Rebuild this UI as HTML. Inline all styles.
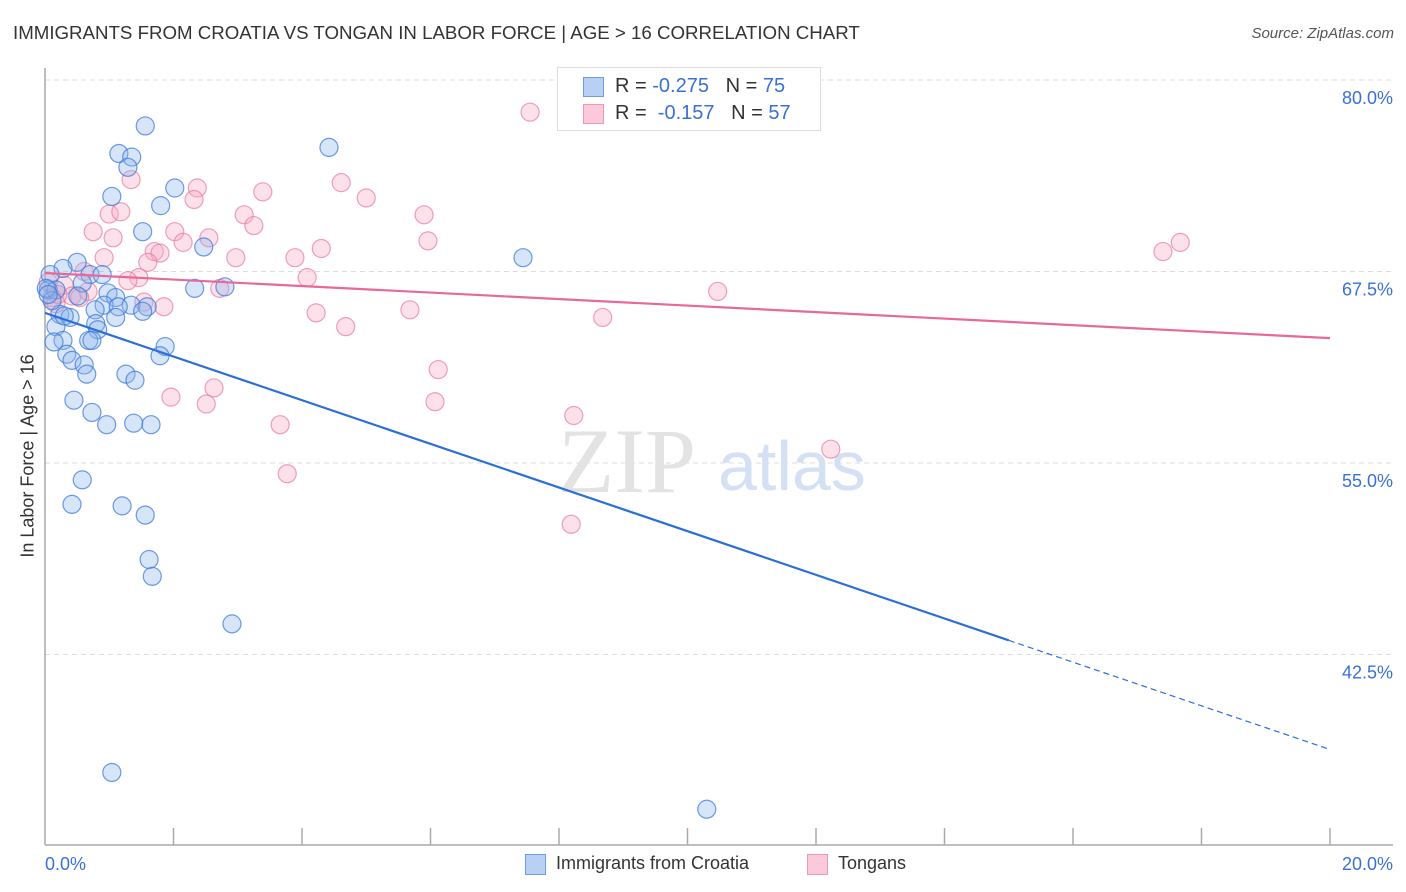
<!DOCTYPE html>
<html><head><meta charset="utf-8"><style>
body{margin:0;background:#fff;font-family:"Liberation Sans",sans-serif}
#wrap{position:relative;width:1406px;height:892px;overflow:hidden}
.t{position:absolute;white-space:nowrap}
</style></head><body>
<div id="wrap">
<div class="t" style="left:13px;top:22px;font-size:18.7px;color:#333">IMMIGRANTS FROM CROATIA VS TONGAN IN LABOR FORCE | AGE &gt; 16 CORRELATION CHART</div>
<div class="t" style="right:12px;top:25px;font-size:15px;color:#555;font-style:italic">Source: ZipAtlas.com</div>
<svg id="svg" width="1406" height="892" style="position:absolute;left:0;top:0"></svg>
</div>
<script>
const xTicks=[0,2,4,6,8,10,12,14,16,18,20];
const yTicks=[42.5,55,67.5,80];
const yTickLabels=["42.5%","55.0%","67.5%","80.0%"];
const croatiaX=[1.56,1.15,1.35,1.29,1.04,2.02,1.80,1.52,2.47,4.42,7.44,0.50,0.28,0.70,0.89,0.58,0.08,0.05,0.17,0.98,0.51,1.10,1.34,1.59,0.92,1.14,2.33,2.80,0.78,1.10,1.52,0.23,0.39,0.17,0.79,0.82,0.68,0.28,0.14,0.73,1.87,1.79,0.34,0.42,0.61,0.65,1.26,1.40,0.45,0.73,0.96,1.38,1.65,0.58,0.42,1.20,1.56,1.62,1.67,2.91,1.04,10.30,0.11,0.02,0.05,0.30];
const croatiaY=[77.0,75.2,74.97,74.3,72.4,72.95,71.8,70.1,69.1,75.6,68.4,68.1,67.7,67.3,67.3,66.75,67.3,66.3,66.3,66.1,65.9,65.8,65.3,65.2,65.3,65.2,66.4,66.5,65.0,64.5,64.9,64.7,64.5,63.9,64.1,63.7,63.0,63.0,62.9,63.0,62.6,62.0,62.1,61.7,61.4,60.8,60.8,60.4,59.1,58.3,57.5,57.6,57.5,53.9,52.3,52.2,51.6,48.7,47.6,44.5,34.8,32.4,65.6,66.4,66.0,64.6];
const tonganX=[7.55,1.34,2.37,3.39,4.61,5.0,2.32,1.0,1.18,3.10,3.25,5.90,0.75,1.06,2.02,2.55,2.15,5.96,1.70,1.79,4.30,2.97,3.89,1.60,0.92,1.46,1.29,4.08,17.4,17.67,10.47,0.30,0.42,0.11,0.17,0.67,1.54,1.85,2.72,4.22,4.68,5.68,8.68,6.12,2.63,1.96,2.51,6.07,8.23,3.66,12.23,3.77,8.19,0.61,0.54,0.05,0.20];
const tonganY=[77.9,73.5,72.95,72.7,73.3,72.3,72.2,71.25,71.4,71.2,70.5,71.2,70.1,69.7,70.1,69.7,69.4,69.5,68.8,68.7,69.0,68.4,68.4,68.1,68.4,67.1,66.9,67.1,68.8,69.4,66.2,66.6,65.9,65.8,65.4,66.2,65.5,65.2,66.4,64.8,63.9,65.0,64.5,61.1,59.9,59.3,58.85,59.0,58.1,57.5,55.9,54.3,51.0,67.5,65.8,66.8,66.0];
const croatiaTrend=[64.8,36.3];const croatiaSolidEnd=15.0;
const tonganTrend=[67.4,63.15];
const NS="http://www.w3.org/2000/svg";
const svg=document.getElementById('svg');
const X=v=>45+v/20*1285;
const Y=v=>80+(80-v)/12.5*191.5;
function el(tag,attrs){const e=document.createElementNS(NS,tag);for(const k in attrs)e.setAttribute(k,attrs[k]);svg.appendChild(e);return e;}
yTicks.forEach((v,i)=>{
 const g=el('line',{x1:45,x2:1393,y1:Y(v),y2:Y(v),stroke:'#ddd','stroke-dasharray':'5,4'});
 
 
 const t=el('text',{x:1393,y:Y(v)+24,'text-anchor':'end','font-size':18,fill:'#3a70d6','font-family':'Liberation Sans, sans-serif'});
 t.textContent=yTickLabels[i];
 
 
});
const ax=el('line',{x1:45,x2:45,y1:68,y2:845,stroke:'#aaa','stroke-width':1.5});


const bx=el('line',{x1:45,x2:1393,y1:845,y2:845,stroke:'#aaa','stroke-width':1.5});


xTicks.slice(1).forEach(v=>{
 const l=el('line',{x1:X(v),x2:X(v),y1:828,y2:845,stroke:'#aaa','stroke-width':1.5});
 
 
});
[[0,'0.0%',45,'start'],[20,'20.0%',1393,'end']].forEach(a=>{
 const t=el('text',{x:a[2],y:870,'text-anchor':a[3],'font-size':18,fill:'#3a70d6','font-family':'Liberation Sans, sans-serif'});
 t.textContent=a[1];
 
 
});
const w1=el('text',{x:558,y:492,'font-size':92,fill:'#e3e3e3','font-family':'Liberation Serif, serif'});w1.textContent='ZIP';


const w2=el('text',{x:718,y:490,'font-size':70,fill:'#d4e1f5','font-family':'Liberation Sans, sans-serif'});w2.textContent='atlas';


tonganX.forEach((x,i)=>{
 const c=el('circle',{cx:X(x),cy:Y(tonganY[i]),r:9,fill:'rgba(248,170,195,0.35)',stroke:'rgba(232,120,160,0.7)','stroke-width':1.2});
 
 
});
croatiaX.forEach((x,i)=>{
 const c=el('circle',{cx:X(x),cy:Y(croatiaY[i]),r:9,fill:'rgba(140,180,235,0.35)',stroke:'rgba(60,120,220,0.75)','stroke-width':1.2});
 
 
});
const cy=x=>croatiaTrend[0]+(croatiaTrend[1]-croatiaTrend[0])*x/20;
const l1=el('line',{x1:X(0),y1:Y(cy(0)),x2:X(croatiaSolidEnd),y2:Y(cy(croatiaSolidEnd)),stroke:'#2b6fd6','stroke-width':2.2});


const l2=el('line',{x1:X(croatiaSolidEnd),y1:Y(cy(croatiaSolidEnd)),x2:X(20),y2:Y(cy(20)),stroke:'#2b6fd6','stroke-width':1.2,'stroke-dasharray':'6,4'});


const l3=el('line',{x1:X(0),y1:Y(tonganTrend[0]),x2:X(20),y2:Y(tonganTrend[1]),stroke:'#e8689a','stroke-width':2.2});


</script>
<div class="t" style="left:28px;top:456px;font-size:18px;color:#333;transform:translate(-50%,-50%) rotate(-90deg);transform-origin:center;">In Labor Force | Age &gt; 16</div>
<div style="position:absolute;left:557px;top:67px;width:262px;height:62px;border:1px solid #ddd;background:#fff;font-size:20px;color:#333">
 <div style="position:absolute;left:25px;top:9px;width:19px;height:18px;background:#b8d0f3;border:1px solid #6f9be0"></div>
 <div class="t" style="left:57px;top:7px">R = <span style="color:#3a70d6">-0.275</span>&nbsp;&nbsp;&nbsp;N = <span style="color:#3a70d6">75</span></div>
 <div style="position:absolute;left:25px;top:36px;width:19px;height:18px;background:#fbc9d8;border:1px solid #eb9ab5"></div>
 <div class="t" style="left:57px;top:34px">R = &nbsp;<span style="color:#3a70d6">-0.157</span>&nbsp;&nbsp;&nbsp;N = <span style="color:#3a70d6">57</span></div>
</div>
<div style="position:absolute;left:0;top:852px;width:1406px;font-size:18px;color:#333">
 <div style="position:absolute;left:525px;top:2px;width:19px;height:19px;background:#b8d0f3;border:1px solid #6f9be0"></div>
 <div class="t" style="left:556px;top:1px">Immigrants from Croatia</div>
 <div style="position:absolute;left:807px;top:2px;width:19px;height:19px;background:#fbc9d8;border:1px solid #eb9ab5"></div>
 <div class="t" style="left:838px;top:1px">Tongans</div>
</div>
</body></html>
